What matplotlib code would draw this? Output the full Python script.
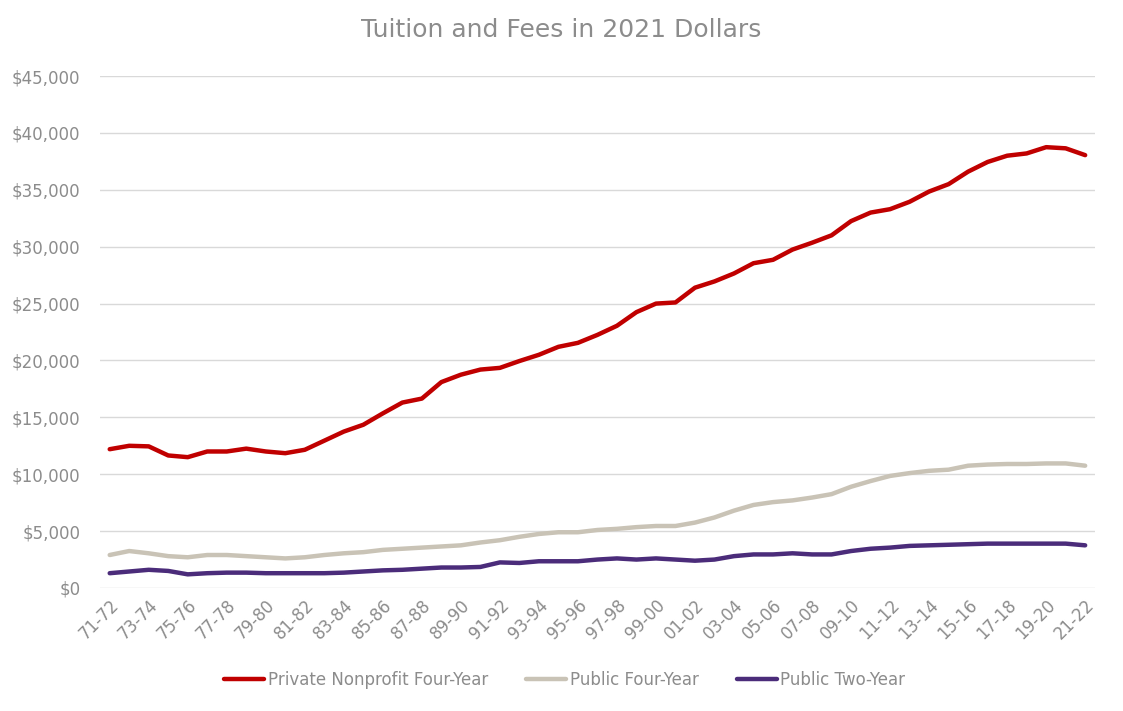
import matplotlib
matplotlib.use("Agg")
import matplotlib.pyplot as plt
from matplotlib.ticker import FuncFormatter, MultipleLocator


# ==============================
# DATA
# ==============================
years = [f"{y % 100:02d}-{(y + 1) % 100:02d}" for y in range(1971, 2022)]

private_four = [
    12200, 12500, 12450, 11650, 11500, 12000, 12000, 12250, 12000, 11850,
    12150, 12950, 13750, 14350, 15350, 16300, 16650, 18100, 18750, 19200,
    19350, 19950, 20500, 21200, 21550, 22250, 23050, 24250, 25000, 25100,
    26400, 26950, 27650, 28550, 28850, 29750, 30350, 31000, 32250, 33000,
    33300, 33950, 34850, 35500, 36600, 37450, 38000, 38200, 38750, 38650,
    38050,
]

public_four = [
    2900, 3250, 3050, 2800, 2700, 2900, 2900, 2800, 2700, 2600,
    2700, 2900, 3050, 3150, 3350, 3450, 3550, 3650, 3750, 4000,
    4200, 4500, 4750, 4900, 4900, 5100, 5200, 5350, 5450, 5450,
    5750, 6200, 6800, 7300, 7550, 7700, 7950, 8250, 8900, 9400,
    9850, 10100, 10300, 10400, 10750, 10850, 10900, 10900, 10950, 10950,
    10750,
]

public_two = [
    1300, 1450, 1600, 1500, 1200, 1300, 1350, 1350, 1300, 1300,
    1300, 1300, 1350, 1450, 1550, 1600, 1700, 1800, 1800, 1850,
    2250, 2200, 2350, 2350, 2350, 2500, 2600, 2500, 2600, 2500,
    2400, 2500, 2800, 2950, 2950, 3050, 2950, 2950, 3250, 3450,
    3550, 3700, 3750, 3800, 3850, 3900, 3900, 3900, 3900, 3900,
    3750,
]

series_names = ["Private Nonprofit Four-Year", "Public Four-Year", "Public Two-Year"]
series_colors = ["#C00000", "#C9C3B6", "#4B2C7A"]

TEXT_GRAY = "#8C8C8C"

plt.rcParams["font.family"] = ["DejaVu Sans"]

fig = plt.figure(figsize=(11.23, 7.11), dpi=100)
ax = fig.add_axes([0.089, 0.173, 0.886, 0.720])

x = list(range(len(years)))
for vals, name, col in zip([private_four, public_four, public_two], series_names, series_colors):
    ax.plot(x, vals, color=col, linewidth=3.2, label=name, solid_capstyle="round")

ax.set_xlim(-0.5, len(years) - 0.5)
ax.set_ylim(0, 45000)
ax.yaxis.set_major_locator(MultipleLocator(5000))
ax.yaxis.set_major_formatter(FuncFormatter(lambda v, p: f"${v:,.0f}"))

ax.set_xticks(x[::2])
ax.set_xticklabels(years[::2], rotation=45, ha="right", rotation_mode="anchor")

ax.grid(axis="y", color="#D9D9D9", linewidth=1)
ax.set_axisbelow(True)
for s in ["top", "right", "left", "bottom"]:
    ax.spines[s].set_visible(False)
ax.tick_params(axis="both", length=0, colors=TEXT_GRAY, labelsize=12)
ax.tick_params(axis="y", pad=14)
ax.tick_params(axis="x", pad=6)

fig.suptitle("Tuition and Fees in 2021 Dollars", y=0.975, fontsize=18, color=TEXT_GRAY)

leg = fig.legend(loc="lower center", bbox_to_anchor=(0.503, 0.01), ncol=3, frameon=False,
                 fontsize=12, handlelength=2.4, handletextpad=0.2, columnspacing=2.3)
for t in leg.get_texts():
    t.set_color(TEXT_GRAY)

fig.savefig("out.png", dpi=100)
